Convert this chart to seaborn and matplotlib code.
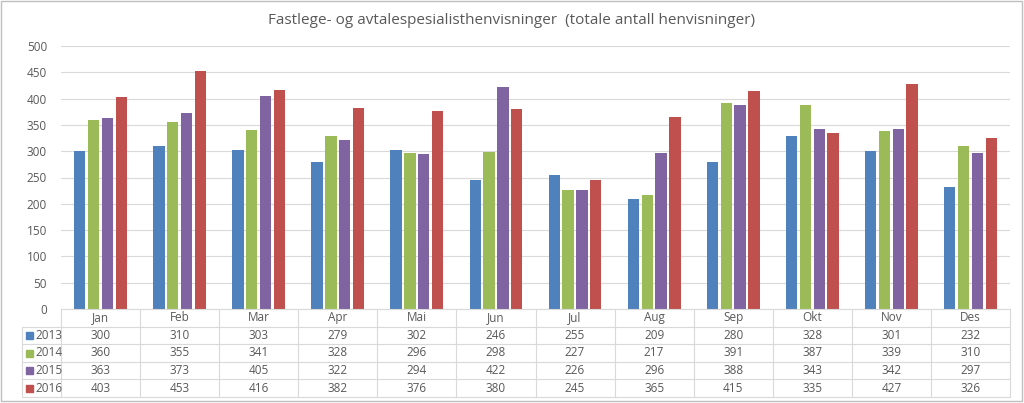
import matplotlib
matplotlib.use("Agg")
import matplotlib.pyplot as plt
import seaborn as sns
import pandas as pd
from matplotlib.patches import Rectangle
from matplotlib.lines import Line2D

months = ["Jan", "Feb", "Mar", "Apr", "Mai", "Jun", "Jul", "Aug", "Sep", "Okt", "Nov", "Des"]
years = ["2013", "2014", "2015", "2016"]
v2013 = [300, 310, 303, 279, 302, 246, 255, 209, 280, 328, 301, 232]
v2014 = [360, 355, 341, 328, 296, 298, 227, 217, 391, 387, 339, 310]
v2015 = [363, 373, 405, 322, 294, 422, 226, 296, 388, 343, 342, 297]
v2016 = [403, 453, 416, 382, 376, 380, 245, 365, 415, 335, 427, 326]
colors = ["#4F81BD", "#9BBB59", "#8064A2", "#C0504D"]
title = "Fastlege- og avtalespesialisthenvisninger  (totale antall henvisninger)"

series = [v2013, v2014, v2015, v2016]
df = pd.DataFrame({
    "month": months * 4,
    "year": [y for y in years for _ in months],
    "value": [v for s in series for v in s],
})

sns.set_style("white")
plt.rcParams["font.family"] = ["Open Sans", "DejaVu Sans"]
txt = "#595959"

W, H = 1024, 403
fig = plt.figure(figsize=(W / 100, H / 100), dpi=100)
fig.patch.set_facecolor("white")

x0, x1 = 61, 1010
ytop, y0 = 46, 309
ax = fig.add_axes([x0 / W, (H - y0) / H, (x1 - x0) / W, (y0 - ytop) / H])
sns.barplot(data=df, x="month", y="value", hue="year", palette=colors,
            width=0.7, gap=0.18, ax=ax, legend=False, saturation=1, linewidth=0)
ax.set_ylim(0, 500)
ax.set_xlim(-0.5, 11.5)
ax.set_yticks(range(0, 501, 50))
ax.yaxis.grid(True, color="#D9D9D9", linewidth=0.8)
ax.set_axisbelow(True)
for s in ax.spines.values():
    s.set_visible(False)
ax.set_xlabel("")
ax.set_ylabel("")
ax.set_xticks([])
ax.tick_params(axis="y", length=0, labelsize=8.5, labelcolor=txt, pad=10)

fig.text(511 / W, 1 - 20 / H, title, ha="center", va="center", fontsize=11, color=txt)

# data table
tab = fig.add_axes([0, 0, 1, 1], facecolor="none")
tab.set_xlim(0, W)
tab.set_ylim(H, 0)
tab.axis("off")
lc = "#D9D9D9"
row_h = 17.6
rows_y = [y0 + row_h * i for i in range(6)]  # header + 4 rows
leftcol = 22
colw = (x1 - x0) / 12
tab.add_line(Line2D([x0, x1], [y0, y0], color=lc, lw=0.8))
for i in range(1, 6):
    tab.add_line(Line2D([leftcol, x1], [rows_y[i], rows_y[i]], color=lc, lw=0.8))
tab.add_line(Line2D([leftcol, leftcol], [rows_y[1], rows_y[5]], color=lc, lw=0.8))
for j in range(13):
    xx = x0 + colw * j
    tab.add_line(Line2D([xx, xx], [y0, rows_y[5]], color=lc, lw=0.8))
for j, m in enumerate(months):
    tab.text(x0 + colw * (j + 0.5), (rows_y[0] + rows_y[1]) / 2, m, ha="center",
             va="center", fontsize=8.5, color=txt)
for i, (yr, s, c) in enumerate(zip(years, series, colors)):
    yc = (rows_y[i + 1] + rows_y[i + 2]) / 2
    tab.add_patch(Rectangle((26, yc - 3.5), 7, 7, color=c))
    tab.text(35, yc, yr, ha="left", va="center", fontsize=8.5, color=txt)
    for j, v in enumerate(s):
        tab.text(x0 + colw * (j + 0.5), yc, str(v), ha="center", va="center",
                 fontsize=8.5, color=txt)

tab.add_patch(Rectangle((1, 1), W - 3, H - 3, fill=False, edgecolor="#BFBFBF", lw=1))

fig.savefig("out.png", dpi=100)
